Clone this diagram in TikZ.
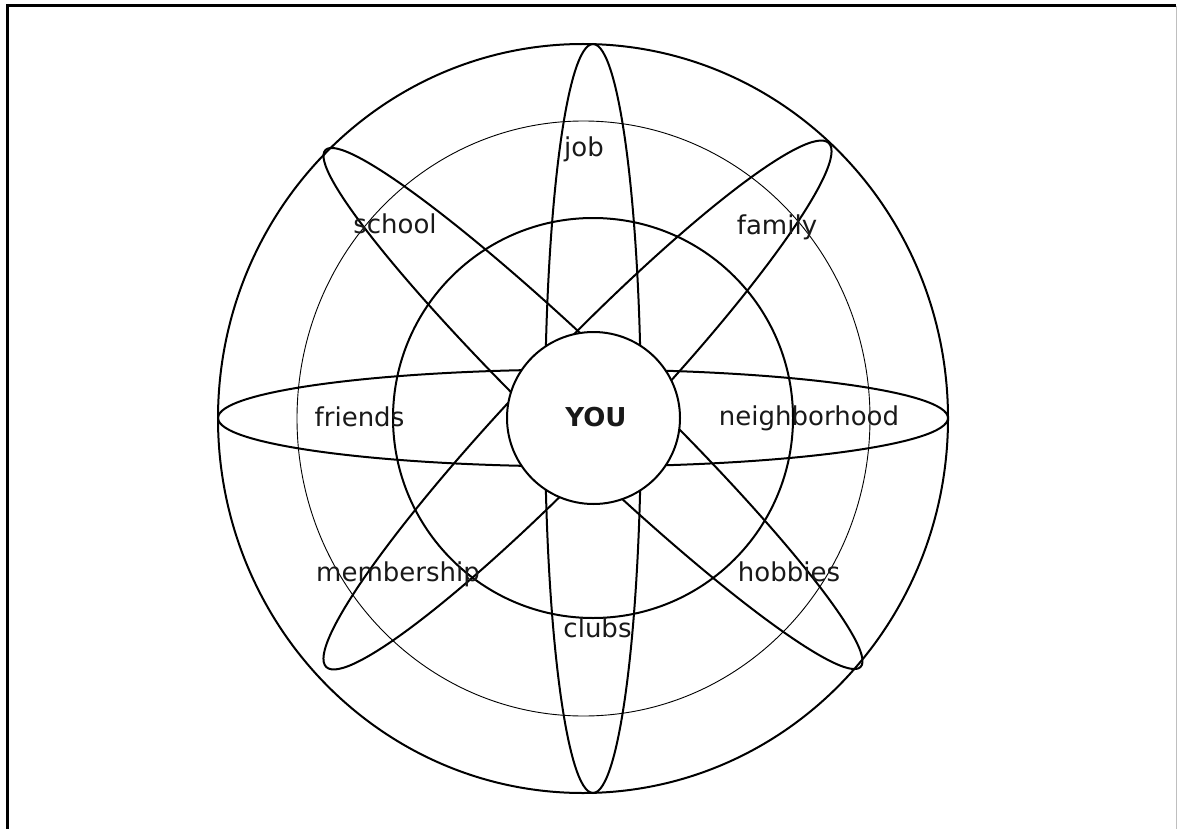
\documentclass[tikz,border=0pt]{standalone}
\usepackage{fontspec}
\setmainfont{DejaVu Sans}
\begin{document}
\begin{tikzpicture}[x=1pt,y=1pt,
  thickline/.style={line width=2pt},
  thinline/.style={line width=0.9pt},
  lbl/.style={anchor=base, inner sep=0pt, font=\fontsize{26}{30}\selectfont, text=black!90}]
\useasboundingbox (0,0) rectangle (1177,-829);
\fill[white] (0,0) rectangle (1177,-829);
% frame
\draw[line width=3.5pt] (7.5,-829) -- (7.5,-5.7) -- (1176,-5.7);
\draw[black!25, line width=1pt] (1176,-5.7) -- (1176,-829);
% rings
\draw[thickline] (583,-418.5) ellipse [x radius=365, y radius=374.5];
\draw[thinline] (583.5,-418.5) ellipse [x radius=286.5, y radius=297.5];
\draw[thickline] (593,-418) circle [radius=200];
% petals
\draw[thickline] (583,-418) ellipse [x radius=365, y radius=48.5];
\draw[thickline] (593,-418.5) ellipse [x radius=48, y radius=374.5];
\draw[thickline, rotate around={-44:(593,-408.5)}] (593,-408.5) ellipse [x radius=372, y radius=46];
\draw[thickline, rotate around={46.2:(577.5,-405)}] (577.5,-405) ellipse [x radius=363, y radius=52];
% centre
\draw[thickline, fill=white] (593.5,-418) ellipse [x radius=86.5, y radius=86];
% labels
\node[lbl] (job) at (584,-157) {job};
\node[lbl] (school) at (395,-233) {school};
\node[lbl] (family) at (777,-234) {family};
\node[lbl] (friends) at (359.5,-426) {friends};
\node[lbl, font=\fontsize{26}{30}\selectfont\bfseries] (you) at (596,-426) {YOU};
\node[lbl] (neigh) at (809,-425) {neighborhood};
\node[lbl] (member) at (398,-581) {membership};
\node[lbl] (hobbies) at (789,-581) {hobbies};
\node[lbl] (clubs) at (597.5,-637) {clubs};
\end{tikzpicture}
\end{document}
